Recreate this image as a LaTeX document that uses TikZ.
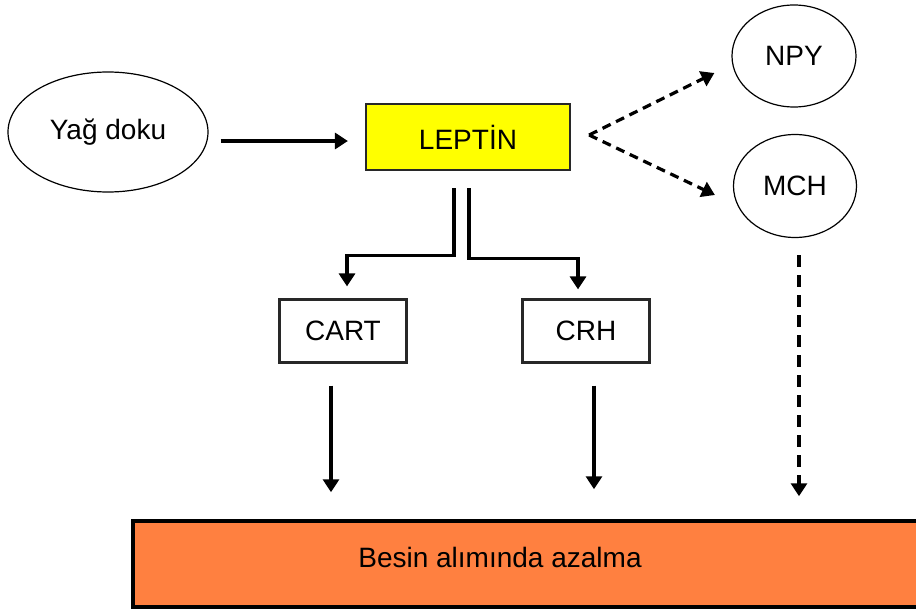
\documentclass[tikz,border=0pt]{standalone}
\usepackage{fontspec}
\setmainfont{Liberation Sans}
\usepackage{tikz}
\usetikzlibrary{arrows.meta, shapes.geometric}
\definecolor{leptinfill}{RGB}{255,255,0}
\definecolor{barfill}{RGB}{255,128,64}
\definecolor{boxline}{RGB}{40,40,40}
\tikzset{
  blob/.style={ellipse, draw, line width=1.2pt, font=\fontsize{28}{30}\selectfont,
    inner sep=0pt},
  plainbox/.style={rectangle, draw=boxline, line width=2.2pt,
    font=\fontsize{28}{30}\selectfont, inner sep=0pt},
  arr/.style={line width=3.2pt, -{Triangle[width=16pt,length=13pt]}},
  dasharr/.style={arr, dash pattern=on 12pt off 8pt},
}

\begin{document}
\begin{tikzpicture}[x=1pt, y=-1pt,
  sbox/.style={plainbox, minimum width=127pt, minimum height=63pt}]
\useasboundingbox (0,0) rectangle (916,610);
% nodes
\node[blob, minimum width=200pt, minimum height=120pt] (yag) at (108,132) {Yağ doku};
\node[plainbox, fill=leptinfill, minimum width=204pt, minimum height=66pt] (leptin)
  at (468,137) {LEPTİN};
\node[blob, minimum width=124pt, minimum height=102pt] (npy) at (794,56) {NPY};
\node[blob, minimum width=123pt, minimum height=103pt] (mch) at (795,186) {MCH};
\node[sbox] (cart) at (343,331) {CART};
\node[sbox] (crh) at (586,331) {CRH};
\node[rectangle, draw, line width=3.5pt, fill=barfill, minimum width=800pt,
  minimum height=86pt] (bar) at (533,564) {};
\node[font=\fontsize{28}{30}\selectfont] (bartext) at (500,557) {Besin alımında azalma};
% connectors
\draw[arr, shorten <=12pt, shorten >=17pt] (yag.east |- 0,141) -- (leptin.west |- 0,141);
\draw[dasharr, dash pattern=on 9pt off 6pt]
  ([xshift=18pt, yshift=2pt]leptin.east) -- ([xshift=-17pt, yshift=-17pt]npy.west);
\draw[dasharr, dash pattern=on 9pt off 6pt]
  ([xshift=18pt, yshift=2pt]leptin.east) -- ([xshift=-18pt, yshift=-9pt]mch.west);
\draw[arr, shorten >=12pt]
  ([xshift=-14pt, yshift=-17pt]leptin.south) -- ++(0,67) -| ([xshift=4pt]cart.north);
\draw[arr, shorten >=9pt]
  ([xshift=1pt, yshift=-17pt]leptin.south) -- ++(0,70) -| ([xshift=-8pt]crh.north);
\draw[arr, shorten <=22pt, shorten >=27pt]
  ([xshift=-12pt]cart.south) -- ([xshift=-12pt]cart.south |- bar.north);
\draw[arr, shorten <=22pt, shorten >=30pt]
  ([xshift=8pt]crh.south) -- ([xshift=8pt]crh.south |- bar.north);
\draw[dasharr, shorten <=17pt, shorten >=23pt]
  ([xshift=4pt]mch.south) -- ([xshift=4pt]mch.south |- bar.north);
\end{tikzpicture}
\end{document}
